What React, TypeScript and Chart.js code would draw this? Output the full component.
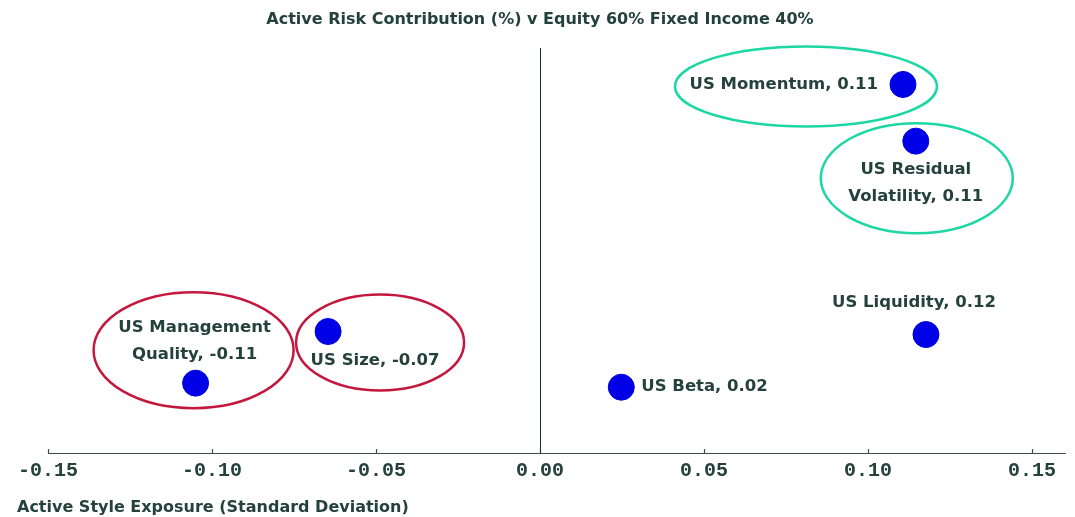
import React, { useEffect, useRef } from "react";
import { Chart, registerables } from "chart.js";

Chart.register(...registerables);

const factorNames = [
  ["US Momentum"],
  ["US Residual", "Volatility"],
  ["US Liquidity"],
  ["US Beta"],
  ["US Size"],
  ["US Management", "Quality"],
];
const displayValues = ["0.11", "0.11", "0.12", "0.02", "-0.07", "-0.11"];
const styleExposure = [0.1107, 0.1146, 0.1177, 0.0248, -0.0646, -0.105];
const riskContribution = [18.2, 15.4, 5.85, 3.25, 6.0, 3.45];
const xTicks = [-0.15, -0.1, -0.05, 0, 0.05, 0.1, 0.15];

const TEXT = "#24423a";
const FONT = "'DejaVu Sans', 'Liberation Sans', Arial, sans-serif";
const MONO = "'Liberation Mono', 'Courier New', monospace";

// label placement relative to each point (pixels)
const labelLayout = [
  { dx: -25, dy: 0, align: "right" },
  { dx: 0, dy: 29, align: "center" },
  { dx: -12, dy: -32, align: "center" },
  { dx: 20, dy: 0, align: "left" },
  { dx: 47, dy: 29, align: "center" },
  { dx: -1, dy: -55, align: "center" },
];
// highlight ellipses: [pointIndex, dx, dy, rx, ry, color]
const ellipses: [number, number, number, number, number, string][] = [
  [0, -97, 2, 131, 40, "#1cd6a6"],
  [1, 1, 37, 96, 55, "#1cd6a6"],
  [5, -2, -33, 100, 58, "#c4173e"],
  [4, 52, 11, 84, 48, "#c4173e"],
];

const overlay = {
  id: "overlay",
  afterDatasetsDraw(chart: any) {
    const { ctx, chartArea, scales } = chart;
    const x = scales.x;
    ctx.save();
    // title
    ctx.fillStyle = TEXT;
    ctx.font = `bold 16px ${FONT}`;
    ctx.textAlign = "center";
    ctx.textBaseline = "middle";
    ctx.fillText("Active Risk Contribution (%) v Equity 60% Fixed Income 40%", 540, 20);
    // axis line and inward ticks
    ctx.strokeStyle = "#3d4f47";
    ctx.lineWidth = 1.2;
    ctx.beginPath();
    ctx.moveTo(chartArea.left, chartArea.bottom + 0.5);
    ctx.lineTo(chartArea.right, chartArea.bottom + 0.5);
    for (const t of xTicks) {
      const px = Math.round(x.getPixelForValue(t)) + 0.5;
      ctx.moveTo(px, chartArea.bottom);
      ctx.lineTo(px, chartArea.bottom - 4);
    }
    ctx.stroke();
    // tick labels
    ctx.font = `bold 20px ${MONO}`;
    for (const t of xTicks) {
      ctx.fillText(t.toFixed(2), x.getPixelForValue(t), chartArea.bottom + 18);
    }
    // zero line
    ctx.strokeStyle = "#1f2a25";
    ctx.lineWidth = 1;
    const zx = Math.round(x.getPixelForValue(0)) + 0.5;
    ctx.beginPath();
    ctx.moveTo(zx, chartArea.top);
    ctx.lineTo(zx, chartArea.bottom);
    ctx.stroke();

    const meta = chart.getDatasetMeta(0);
    // ellipses
    ctx.lineWidth = 2.5;
    for (const [i, dx, dy, rx, ry, col] of ellipses) {
      const p = meta.data[i];
      ctx.strokeStyle = col;
      ctx.beginPath();
      ctx.ellipse(p.x + dx, p.y + dy, rx, ry, 0, 0, Math.PI * 2);
      ctx.stroke();
    }
    // labels
    ctx.fillStyle = TEXT;
    ctx.font = `bold 16.5px ${FONT}`;
    factorNames.forEach((lines, i) => {
      const p = meta.data[i];
      const L = labelLayout[i];
      const full = [...lines];
      full[full.length - 1] = full[full.length - 1] + ", " + displayValues[i];
      ctx.textAlign = L.align;
      full.forEach((line, k) => {
        ctx.fillText(line, p.x + L.dx, p.y + L.dy + k * 27);
      });
    });
    // x-axis title
    ctx.textAlign = "left";
    ctx.font = `bold 16px ${FONT}`;
    ctx.fillText("Active Style Exposure (Standard Deviation)", 17, 508);
    ctx.restore();
  },
};

export default function App() {
  const ref = useRef<HTMLCanvasElement>(null);
  useEffect(() => {
    document.body.style.margin = "0";
    const chart = new Chart(ref.current!, {
      type: "scatter",
      data: {
        datasets: [
          {
            data: styleExposure.map((v, i) => ({ x: v, y: riskContribution[i] })),
            backgroundColor: "#0000e6",
            borderColor: "#0000e6",
            pointRadius: 13,
            pointHoverRadius: 13,
          },
        ],
      },
      options: {
        animation: false,
        responsive: false,
        layout: { autoPadding: false, padding: { left: 48, right: 9, top: 48, bottom: 64 } },
        plugins: {
          legend: { display: false },
          tooltip: { enabled: false },
          title: { display: false },
        },
        scales: {
          x: {
            type: "linear",
            min: -0.15,
            max: 0.1604,
            afterBuildTicks: (axis: any) => {
              axis.ticks = xTicks.map((v) => ({ value: v }));
            },
            grid: { display: false, drawTicks: false },
            border: { display: false },
            ticks: { display: false },
          },
          y: { display: false, min: 0, max: 20 },
        },
      },
      plugins: [overlay],
    });
    return () => chart.destroy();
  }, []);
  return <canvas ref={ref} width={1075} height={517} style={{ display: "block" }} />;
}
